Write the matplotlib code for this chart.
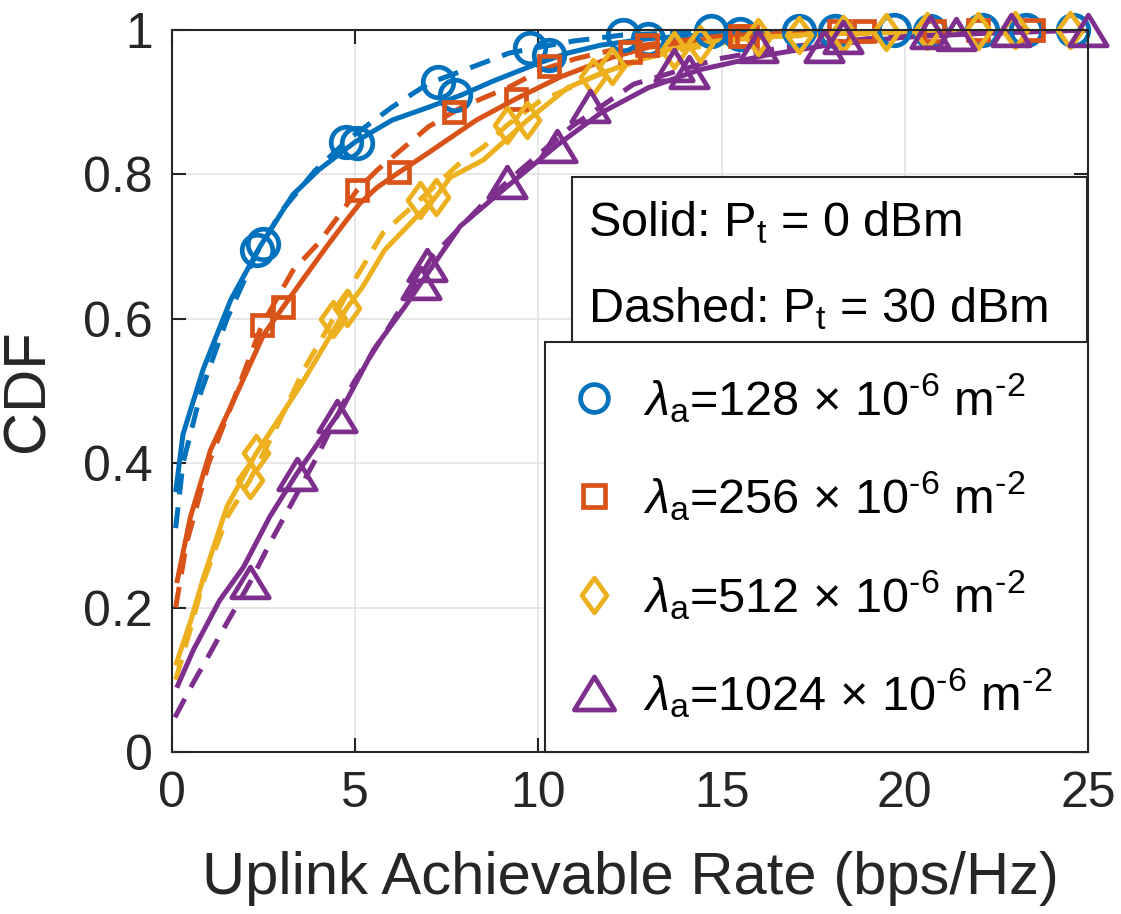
import matplotlib
matplotlib.use("Agg")
import matplotlib.pyplot as plt
from matplotlib.lines import Line2D
from matplotlib.patches import Rectangle
from matplotlib.path import Path
import numpy as np

plt.rcParams['font.family'] = ['Liberation Sans', 'DejaVu Sans']
plt.rcParams['mathtext.fontset'] = 'custom'
plt.rcParams['mathtext.rm'] = 'Liberation Sans'
plt.rcParams['mathtext.it'] = 'Liberation Sans:italic'
plt.rcParams['mathtext.bf'] = 'Liberation Sans:bold'

# ---------------- data ----------------
densities = ['128', '256', '512', '1024']
colors = ['#0072BD', '#D95319', '#EDB120', '#7E2F8E']

blue_solid_x = [0.1, 0.3, 0.85, 1.6, 2.4, 3.3, 4.0, 5.0, 6.0, 7.0, 7.9, 8.8, 10.0, 10.8, 11.7, 13.0, 15.0, 18.0, 21.0, 25.0]
blue_solid_y = [0.36, 0.44, 0.53, 0.626, 0.70, 0.772, 0.806, 0.845, 0.875, 0.893, 0.91, 0.93, 0.954, 0.968, 0.979, 0.988, 0.995, 0.998, 0.999, 1.0]
blue_dash_x = [0.1, 0.3, 0.8, 1.5, 2.3, 3.0, 3.9, 4.8, 6.0, 7.0, 8.0, 9.2, 10.0, 11.0, 12.3, 14.7, 18.0, 25.0]
blue_dash_y = [0.31, 0.40, 0.50, 0.60, 0.69, 0.75, 0.805, 0.848, 0.893, 0.926, 0.945, 0.968, 0.976, 0.985, 0.993, 0.998, 0.999, 1.0]

orange_solid_x = [0.13, 0.5, 1.05, 1.8, 2.5, 3.03, 3.58, 4.22, 4.77, 5.13, 5.6, 6.2, 7.0, 8.3, 9.4, 10.6, 12.0, 13.0, 15.0, 18.0, 21.0, 25.0]
orange_solid_y = [0.234, 0.325, 0.418, 0.50, 0.578, 0.616, 0.655, 0.70, 0.737, 0.76, 0.782, 0.803, 0.83, 0.875, 0.905, 0.935, 0.962, 0.976, 0.99, 0.997, 0.999, 1.0]
orange_dash_x = [0.1, 0.4, 1.0, 1.7, 2.45, 3.3, 4.0, 4.6, 5.05, 5.6, 7.0, 7.9, 9.2, 10.1, 11.0, 12.0, 13.0, 15.0, 18.0, 25.0]
orange_dash_y = [0.20, 0.29, 0.40, 0.49, 0.591, 0.667, 0.705, 0.746, 0.778, 0.806, 0.866, 0.893, 0.921, 0.945, 0.96, 0.972, 0.98, 0.992, 0.998, 1.0]

yellow_solid_x = [0.1, 0.5, 0.85, 1.5, 2.3, 2.9, 3.6, 4.77, 5.2, 5.8, 7.2, 7.6, 8.5, 9.7, 10.8, 11.7, 12.6, 13.5, 14.9, 17.0, 20.0, 25.0]
yellow_solid_y = [0.12, 0.18, 0.24, 0.34, 0.414, 0.46, 0.515, 0.615, 0.644, 0.695, 0.769, 0.796, 0.82, 0.875, 0.92, 0.94, 0.955, 0.972, 0.985, 0.993, 0.998, 1.0]
yellow_dash_x = [0.1, 0.5, 0.85, 1.5, 2.13, 2.9, 3.6, 4.4, 5.0, 5.76, 6.77, 7.86, 8.5, 9.14, 10.0, 11.5, 12.5, 13.8, 16.0, 20.0, 25.0]
yellow_dash_y = [0.10, 0.17, 0.235, 0.325, 0.377, 0.455, 0.53, 0.60, 0.655, 0.719, 0.765, 0.816, 0.838, 0.868, 0.90, 0.935, 0.955, 0.972, 0.99, 0.997, 1.0]

purple_solid_x = [0.13, 0.58, 1.3, 1.95, 2.67, 3.4, 4.67, 5.5, 6.4, 6.8, 7.86, 9.14, 10.5, 11.7, 13.0, 14.4, 16.2, 18.0, 20.0, 22.0, 25.0]
purple_solid_y = [0.089, 0.141, 0.21, 0.256, 0.326, 0.385, 0.478, 0.557, 0.62, 0.65, 0.728, 0.783, 0.84, 0.885, 0.92, 0.945, 0.965, 0.98, 0.99, 0.995, 1.0]
purple_dash_x = [0.08, 0.58, 1.04, 1.5, 2.13, 2.67, 3.96, 4.95, 6.04, 7.1, 8.5, 9.6, 10.9, 12.6, 14.9, 16.7, 19.0, 22.0, 25.0]
purple_dash_y = [0.048, 0.096, 0.137, 0.179, 0.235, 0.289, 0.409, 0.511, 0.598, 0.686, 0.76, 0.81, 0.866, 0.925, 0.96, 0.976, 0.988, 0.996, 1.0]

# marker (simulation) points
blue_solid_mx = [2.48, 5.05, 7.72, 10.3, 13.0, 15.5, 18.1, 20.7, 23.3]
blue_solid_my = [0.704, 0.843, 0.91, 0.965, 0.988, 0.995, 0.998, 0.999, 1.0]
blue_dash_mx = [2.32, 4.75, 7.26, 9.77, 12.3, 14.7, 17.1, 19.7, 22.1, 24.6]
blue_dash_my = [0.695, 0.845, 0.928, 0.975, 0.993, 0.998, 0.999, 1.0, 1.0, 1.0]

orange_solid_mx = [3.03, 6.2, 9.4, 12.5, 15.7, 18.9, 22.0]
orange_solid_my = [0.616, 0.803, 0.905, 0.97, 0.991, 0.998, 1.0]
orange_dash_mx = [2.45, 5.05, 7.7, 10.3, 12.96, 15.5, 18.2, 20.8, 23.5]
orange_dash_my = [0.591, 0.778, 0.887, 0.95, 0.979, 0.992, 0.998, 0.999, 1.0]

yellow_solid_mx = [2.3, 4.77, 7.2, 9.7, 12.0, 14.4, 17.1, 19.5, 22.0, 24.5]
yellow_solid_my = [0.414, 0.615, 0.769, 0.875, 0.95, 0.98, 0.993, 0.997, 0.999, 1.0]
yellow_dash_mx = [2.13, 4.4, 6.77, 9.14, 11.5, 13.7, 16.0, 18.3, 20.6, 23.0]
yellow_dash_my = [0.377, 0.60, 0.765, 0.868, 0.935, 0.972, 0.99, 0.995, 0.998, 1.0]

purple_solid_mx = [3.4, 6.8, 10.5, 14.1, 17.8, 21.4, 25.0]
purple_solid_my = [0.385, 0.65, 0.84, 0.942, 0.978, 0.994, 1.0]
purple_dash_mx = [2.13, 4.5, 6.96, 9.14, 11.4, 13.7, 16.0, 18.3, 20.7, 22.9]
purple_dash_my = [0.235, 0.465, 0.675, 0.79, 0.895, 0.952, 0.978, 0.99, 0.997, 1.0]

xticks = [0, 5, 10, 15, 20, 25]
yticks = [0, 0.2, 0.4, 0.6, 0.8, 1]
ytick_labels = ['0', '0.2', '0.4', '0.6', '0.8', '1']

# --------------- figure ---------------
W, H = 1121, 914
fig = plt.figure(figsize=(W / 100, H / 100), dpi=100)
L, R, T, B = 172, 1088, 30, 752
ax = fig.add_axes([L / W, 1 - B / H, (R - L) / W, (B - T) / H])

def pxa(px, py):
    return ((px - L) / (R - L), (B - py) / (B - T))

diamond = Path([(0, 1), (0.72, 0), (0, -1), (-0.72, 0), (0, 1)],
               [Path.MOVETO, Path.LINETO, Path.LINETO, Path.LINETO, Path.CLOSEPOLY])
triangle = Path([(0, 0.82), (1, -0.82), (-1, -0.82), (0, 0.82)],
                [Path.MOVETO, Path.LINETO, Path.LINETO, Path.CLOSEPOLY])

markers = ['o', 's', diamond, triangle]
msizes = [22, 14, 25, 27]

lines = [
    (blue_solid_x, blue_solid_y, blue_dash_x, blue_dash_y,
     blue_solid_mx, blue_solid_my, blue_dash_mx, blue_dash_my),
    (orange_solid_x, orange_solid_y, orange_dash_x, orange_dash_y,
     orange_solid_mx, orange_solid_my, orange_dash_mx, orange_dash_my),
    (yellow_solid_x, yellow_solid_y, yellow_dash_x, yellow_dash_y,
     yellow_solid_mx, yellow_solid_my, yellow_dash_mx, yellow_dash_my),
    (purple_solid_x, purple_solid_y, purple_dash_x, purple_dash_y,
     purple_solid_mx, purple_solid_my, purple_dash_mx, purple_dash_my),
]

LW = 3.6
MEW = 3.4
for i, (sx, sy, dx, dy, smx, smy, dmx, dmy) in enumerate(lines):
    c = colors[i]
    ax.plot(sx, sy, '-', color=c, lw=LW, zorder=3, solid_capstyle='butt')
    ax.plot(dx, dy, color=c, lw=LW, ls=(0, (4.2, 2.6)), zorder=3, dash_capstyle='butt')
    ax.plot(smx, smy, ls='none', marker=markers[i], ms=msizes[i], mfc='none',
            mec=c, mew=MEW, zorder=4, clip_on=False)
    ax.plot(dmx, dmy, ls='none', marker=markers[i], ms=msizes[i], mfc='none',
            mec=c, mew=MEW, zorder=4, clip_on=False)

ax.set_xlim(0, 25)
ax.set_ylim(0, 1)
ax.set_xticks(xticks)
ax.set_yticks(yticks)
ax.set_yticklabels(ytick_labels)
ax.grid(True, color='#e3e3e3', lw=1.2, zorder=0)
ax.set_axisbelow(True)
ax.tick_params(direction='in', length=10, width=1.5, colors='#262626',
               labelsize=36, top=True, right=True, pad=14)
for sp in ax.spines.values():
    sp.set_color('#262626')
    sp.set_linewidth(1.5)
    sp.set_zorder(5)

ax.set_xlabel('Uplink Achievable Rate (bps/Hz)', fontsize=43, color='#262626', labelpad=24)
ax.set_ylabel('CDF', fontsize=43, color='#262626', labelpad=20)

# text box with the power annotation
x0, y0 = pxa(572, 343)
x1, y1 = pxa(1087, 177)
ax.add_patch(Rectangle((x0, y0), x1 - x0, y1 - y0, transform=ax.transAxes,
                       facecolor='white', edgecolor='#262626', lw=1.5, zorder=6, clip_on=False))
tx, ty = pxa(588, 236)
ax.text(tx, ty, r'Solid: P$_\mathrm{t}$ = 0 dBm', transform=ax.transAxes, fontsize=35,
        va='baseline', ha='left', zorder=7)
tx, ty = pxa(588, 322)
ax.text(tx, ty, r'Dashed: P$_\mathrm{t}$ = 30 dBm', transform=ax.transAxes, fontsize=35,
        va='baseline', ha='left', zorder=7)

# legend box
x0, y0 = pxa(545, 752)
x1, y1 = pxa(1088, 342)
ax.add_patch(Rectangle((x0, y0), x1 - x0, y1 - y0, transform=ax.transAxes,
                       facecolor='white', edgecolor='#262626', lw=1.5, zorder=6, clip_on=False))

leg_ms = [20, 16, 25, 29]
handles = [Line2D([], [], ls='none', marker=markers[i], ms=leg_ms[i], mfc='none',
                  mec=colors[i], mew=MEW) for i in range(4)]
labels = [r'$\lambda_\mathrm{a}$=' + d + r' $\times$ 10$^{\text{-6}}$ m$^{\text{-2}}$' for d in densities]
ax_anchor = pxa(570, 371)
leg = ax.legend(handles, labels, loc='upper left', bbox_to_anchor=ax_anchor,
                frameon=False, fontsize=35, handlelength=1.0, handletextpad=0.5,
                labelspacing=0.92, borderpad=0, borderaxespad=0)
leg.set_zorder(8)

fig.savefig('out.png', dpi=100)
